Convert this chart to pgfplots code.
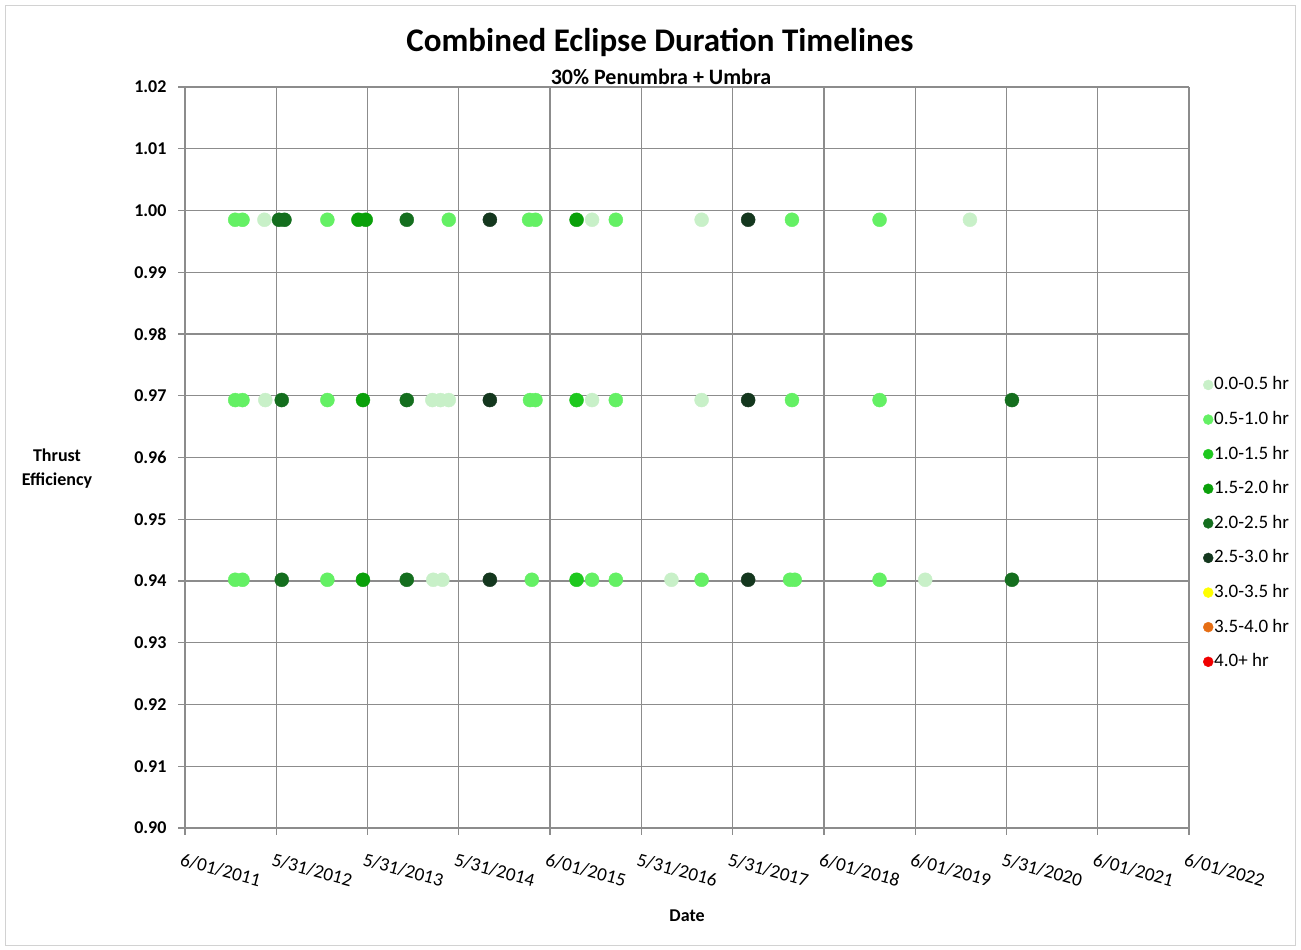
\documentclass[border=0pt]{standalone}
\usepackage{pgfplots}
\pgfplotsset{compat=1.18}
\usepackage{fontspec}
\setmainfont{Carlito}
\definecolor{c0}{RGB}{200,240,200}
\definecolor{c1}{RGB}{100,240,100}
\definecolor{c2}{RGB}{30,200,30}
\definecolor{c3}{RGB}{10,160,10}
\definecolor{c4}{RGB}{20,110,30}
\definecolor{c5}{RGB}{20,55,30}
\definecolor{c6}{RGB}{255,255,0}
\definecolor{c7}{RGB}{230,110,20}
\definecolor{c8}{RGB}{240,0,0}
\definecolor{gridc}{RGB}{140,140,140}
\pgfplotstableread{
x y
0.87 0.9985
4.46 0.9985
5.66 0.9985
8.60 0.9985
0.88 0.9693
2.71 0.9693
2.80 0.9693
2.89 0.9693
4.46 0.9693
5.66 0.9693
2.72 0.9402
2.82 0.9402
5.33 0.9402
8.11 0.9402
}\catzero
\pgfplotstableread{
x y
0.55 0.9985
0.63 0.9985
1.56 0.9985
2.89 0.9985
3.77 0.9985
3.84 0.9985
4.72 0.9985
6.65 0.9985
7.61 0.9985
0.55 0.9693
0.63 0.9693
1.56 0.9693
3.78 0.9693
3.84 0.9693
4.72 0.9693
6.65 0.9693
7.61 0.9693
0.55 0.9402
0.63 0.9402
1.56 0.9402
3.80 0.9402
4.46 0.9402
4.72 0.9402
5.66 0.9402
6.63 0.9402
6.68 0.9402
7.61 0.9402
}\catone
\pgfplotstableread{
x y
4.29 0.9693
4.29 0.9402
}\cattwo
\pgfplotstableread{
x y
1.90 0.9985
1.98 0.9985
4.29 0.9985
1.95 0.9693
1.95 0.9402
}\catthree
\pgfplotstableread{
x y
1.03 0.9985
1.09 0.9985
2.43 0.9985
1.06 0.9693
2.43 0.9693
9.06 0.9693
1.06 0.9402
2.43 0.9402
9.06 0.9402
}\catfour
\pgfplotstableread{
x y
3.34 0.9985
6.17 0.9985
3.34 0.9693
6.17 0.9693
3.34 0.9402
6.17 0.9402
}\catfive
\begin{document}
\begin{tikzpicture}
\begin{axis}[
  at={(0,0)}, anchor=south west,
  scale only axis, width=1004pt, height=741pt,
  xmin=0, xmax=11, ymin=0.90, ymax=1.02,
  clip=false,
  xtick={0,1,2,3,4,5,6,7,8,9,10,11},
  xticklabels={6/01/2011,5/31/2012,5/31/2013,5/31/2014,6/01/2015,5/31/2016,5/31/2017,6/01/2018,6/01/2019,5/31/2020,6/01/2021,6/01/2022},
  ytick={0.90,0.91,0.92,0.93,0.94,0.95,0.96,0.97,0.98,0.99,1.00,1.01,1.02},
  yticklabel style={/pgf/number format/fixed, /pgf/number format/fixed zerofill, /pgf/number format/precision=2, /pgf/number format/assume math mode=true, font=\fontsize{18}{20}\selectfont\bfseries, xshift=-8pt},
  xticklabel style={font=\fontsize{19}{21}\selectfont, rotate=-15, anchor=north west, xshift=-1pt, yshift=-14pt},
  grid=major,
  major grid style={color=gridc, line width=1.2pt},
  axis line style={color=gridc, line width=1.2pt},
  tick style={color=gridc, line width=1.2pt},
  tick align=outside, major tick length=7pt,
  axis x line*=bottom, axis y line*=left,
  legend cell align=left,
  legend style={at={(1.011,0.613)}, anchor=north west, draw=none, fill=none,
    font=\fontsize{19}{21}\selectfont, row sep=16.6pt,
    nodes={inner sep=1pt, text height=13pt, text depth=3pt}},
  legend image code/.code={\draw[#1, mark size=5pt] plot coordinates {(0.1cm,0cm)};},
]
\addplot[only marks, mark=*, color=c0, mark size=7pt] table {\catzero};
\addlegendentry{0.0-0.5 hr}
\addplot[only marks, mark=*, color=c1, mark size=7pt] table {\catone};
\addlegendentry{0.5-1.0 hr}
\addplot[only marks, mark=*, color=c2, mark size=7pt] table {\cattwo};
\addlegendentry{1.0-1.5 hr}
\addplot[only marks, mark=*, color=c3, mark size=7pt] table {\catthree};
\addlegendentry{1.5-2.0 hr}
\addplot[only marks, mark=*, color=c4, mark size=7pt] table {\catfour};
\addlegendentry{2.0-2.5 hr}
\addplot[only marks, mark=*, color=c5, mark size=7pt] table {\catfive};
\addlegendentry{2.5-3.0 hr}
\addlegendimage{only marks, mark=*, color=c6}
\addlegendentry{3.0-3.5 hr}
\addlegendimage{only marks, mark=*, color=c7}
\addlegendentry{3.5-4.0 hr}
\addlegendimage{only marks, mark=*, color=c8}
\addlegendentry{4.0+ hr}
\end{axis}
\node[font=\fontsize{33}{36}\selectfont\bfseries] at (475pt,785pt) {Combined Eclipse Duration Timelines};
\node[font=\fontsize{22}{24}\selectfont\bfseries] at (476pt,751pt) {30\% Penumbra + Umbra};
\node[font=\fontsize{18}{24}\selectfont\bfseries, align=center] at (-128pt,359pt) {Thrust\\Efficiency};
\node[font=\fontsize{18}{20}\selectfont\bfseries] at (502pt,-88pt) {Date};
\draw[gray!35, line width=1pt] (-179pt,-117pt) rectangle (1110pt,822pt);
\path (-185pt,-122pt) rectangle (1116pt,828pt);
\end{tikzpicture}
\end{document}
